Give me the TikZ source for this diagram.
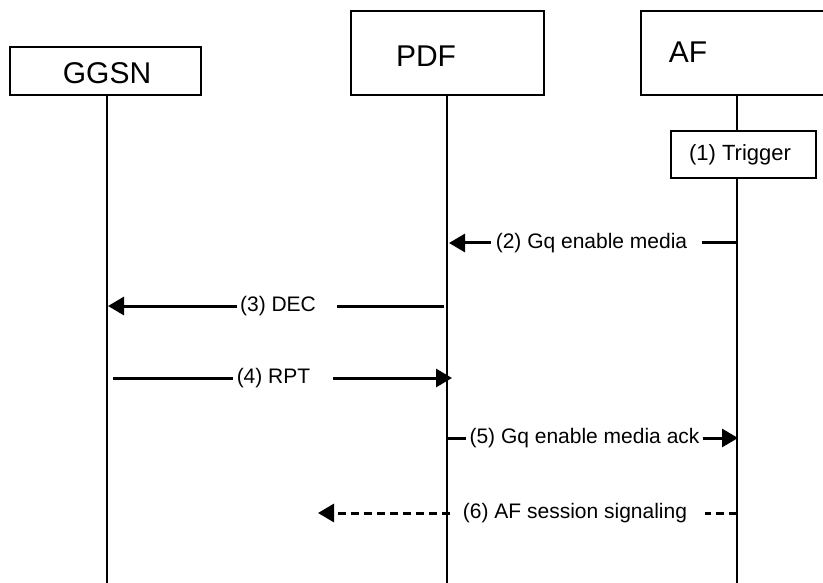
\documentclass[tikz,border=0pt]{standalone}
\usepackage{fontspec}
\setmainfont{Liberation Sans}
\usetikzlibrary{arrows.meta}
\begin{document}
\begin{tikzpicture}[x=1pt,y=-1pt,
  actor/.style={draw, line width=1.3pt, inner sep=0pt},
  headtext/.style={font=\fontsize{30}{36}\selectfont, inner sep=0pt, anchor=base},
  life/.style={line width=1.3pt},
  msgtext/.style={font=\fontsize{21}{25}\selectfont, inner sep=0pt},
  msgline/.style={line width=3pt},
  dashline/.style={line width=3pt, dash pattern=on 8pt off 5pt},
  tip/.style={-{Triangle[length=16pt,width=18pt]}}]
\useasboundingbox (0,0) rectangle (823,583);
\clip (0,0) rectangle (823,583);
% actors
\node[actor, minimum width=191pt, minimum height=48pt] (ggsn) at (105.5,71) {};
\node[headtext] (ggsnt) at (107,84) {GGSN};
\node[actor, minimum width=193pt, minimum height=84pt] (pdf) at (447.5,53) {};
\node[headtext] (pdft) at (426,67) {PDF};
\node[actor, minimum width=192pt, minimum height=84pt] (af) at (737,53) {};
\node[headtext] (aft) at (688,63) {AF};
% lifelines
\coordinate (gend) at (107,583);
\coordinate (pend) at (447,583);
\coordinate (aend) at (737,583);
\draw[life] (gend |- ggsn.south) -- (gend);
\draw[life] (pend |- pdf.south) -- (pend);
\draw[life] (aend |- af.south) -- (aend);
% trigger
\node[actor, fill=white, minimum width=145pt, minimum height=47pt] (trig) at (743.5,154.5) {};
\node[font=\fontsize{22}{26}\selectfont, inner sep=0pt] (trigt) at (740,154.5) {(1) Trigger};
% (2)
\coordinate (m2s) at (737,243);
\coordinate (m2e) at (449,243);
\node[msgtext] (m2) at (591.5,243) {(2) Gq enable media};
\draw[msgline] (m2s) -- ([xshift=15pt]m2.east);
\draw[msgline, tip] ([xshift=-5pt]m2.west) -- (m2e);
% (3)
\coordinate (m3s) at (444,306);
\coordinate (m3e) at (108,306);
\node[msgtext] (m3) at (278,306) {(3) DEC};
\draw[msgline] (m3s) -- ([xshift=21pt]m3.east);
\draw[msgline, tip] ([xshift=-3pt]m3.west) -- (m3e);
% (4)
\coordinate (m4s) at (113,378);
\coordinate (m4e) at (452,378);
\node[msgtext] (m4) at (273.5,378) {(4) RPT};
\draw[msgline] (m4s) -- ([xshift=-4pt]m4.west);
\draw[msgline, tip] ([xshift=23pt]m4.east) -- (m4e);
% (5)
\coordinate (m5s) at (448,438);
\coordinate (m5e) at (738,438);
\node[msgtext] (m5) at (584.5,438) {(5) Gq enable media ack};
\draw[msgline] (m5s) -- ([xshift=-3pt]m5.west);
\draw[msgline, tip] ([xshift=3pt]m5.east) -- (m5e);
% (6)
\coordinate (m6s) at (737,513);
\coordinate (m6e) at (318,513);
\node[msgtext] (m6) at (575,513) {(6) AF session signaling};
\draw[dashline] (m6s) -- ([xshift=18pt]m6.east);
\draw[dashline, tip] ([xshift=-13pt]m6.west) -- (m6e);
\end{tikzpicture}
\end{document}
